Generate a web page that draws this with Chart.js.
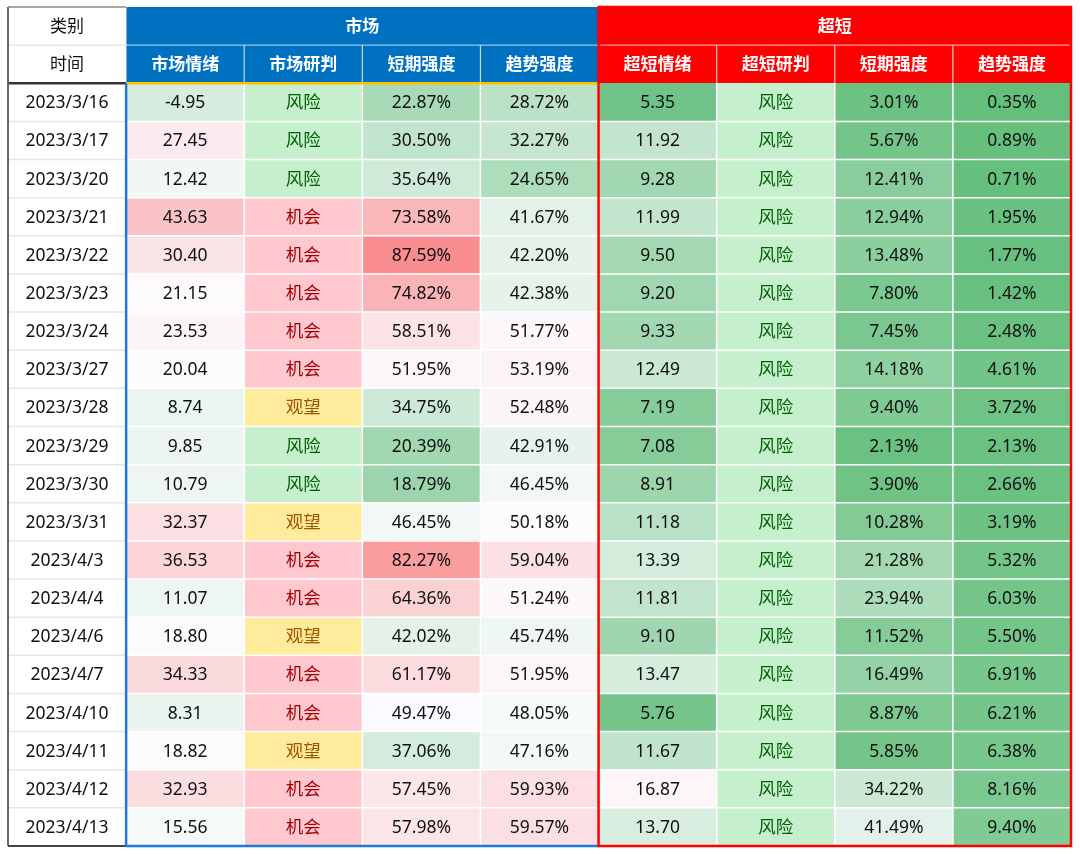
<!DOCTYPE html>
<html><head><meta charset="utf-8">
<script src="https://cdn.jsdelivr.net/npm/chart.js@4.4.0/dist/chart.umd.min.js"></script>
<style>html,body{margin:0;padding:0;background:#fff;}#wrap{width:1080px;height:854px;}</style>
</head><body><div id="wrap"><canvas id="c" width="1080" height="854"></canvas></div>
<script>
// ---- data ----
const dates = ['2023/3/16','2023/3/17','2023/3/20','2023/3/21','2023/3/22','2023/3/23','2023/3/24','2023/3/27','2023/3/28','2023/3/29','2023/3/30','2023/3/31','2023/4/3','2023/4/4','2023/4/6','2023/4/7','2023/4/10','2023/4/11','2023/4/12','2023/4/13'];
const mktEmotion = [-4.95,27.45,12.42,43.63,30.40,21.15,23.53,20.04,8.74,9.85,10.79,32.37,36.53,11.07,18.80,34.33,8.31,18.82,32.93,15.56];
const mktJudge = ['风险','风险','风险','机会','机会','机会','机会','机会','观望','风险','风险','观望','机会','机会','观望','机会','机会','观望','机会','机会'];
const mktShort = [22.87,30.50,35.64,73.58,87.59,74.82,58.51,51.95,34.75,20.39,18.79,46.45,82.27,64.36,42.02,61.17,49.47,37.06,57.45,57.98];
const mktTrend = [28.72,32.27,24.65,41.67,42.20,42.38,51.77,53.19,52.48,42.91,46.45,50.18,59.04,51.24,45.74,51.95,48.05,47.16,59.93,59.57];
const ultraEmotion = [5.35,11.92,9.28,11.99,9.50,9.20,9.33,12.49,7.19,7.08,8.91,11.18,13.39,11.81,9.10,13.47,5.76,11.67,16.87,13.70];
const ultraJudge = ['风险','风险','风险','风险','风险','风险','风险','风险','风险','风险','风险','风险','风险','风险','风险','风险','风险','风险','风险','风险'];
const ultraShort = [3.01,5.67,12.41,12.94,13.48,7.80,7.45,14.18,9.40,2.13,3.90,10.28,21.28,23.94,11.52,16.49,8.87,5.85,34.22,41.49];
const ultraTrend = [0.35,0.89,0.71,1.95,1.77,1.42,2.48,4.61,3.72,2.13,2.66,3.19,5.32,6.03,5.50,6.91,6.21,6.38,8.16,9.40];
const groupHeaders = ['类别','市场','超短'];
const colHeaders = ['时间','市场情绪','市场研判','短期强度','趋势强度','超短情绪','超短研判','短期强度','趋势强度'];

// ---- styling helpers ----
const GREEN=[99,190,123], WHITE=[252,252,255], RED=[248,105,107];
function mix(a,b,t){return 'rgb('+a.map((v,i)=>Math.round(v+(b[i]-v)*t)).join(',')+')';}
function scaleColor(v,lo,mid,hi){
  if(v<=mid){const t=Math.min(1,(mid-v)/(mid-lo));return mix(WHITE,GREEN,t);}
  const t=Math.min(1,(v-mid)/(hi-mid));return mix(WHITE,RED,t);
}
const judgeStyle={'风险':{bg:'#C6EFCE',fg:'#006100'},'机会':{bg:'#FFC7CE',fg:'#9C0006'},'观望':{bg:'#FFEB9C',fg:'#9C5700'}};
const columns=[
  {vals:dates,type:'date'},
  {vals:mktEmotion,type:'num',sc:[-80,20.5,80.5]},
  {vals:mktJudge,type:'judge'},
  {vals:mktShort,type:'pct',sc:[0,50,100]},
  {vals:mktTrend,type:'pct',sc:[0,50,100]},
  {vals:ultraEmotion,type:'num',sc:[4.3,16.5,26]},
  {vals:ultraJudge,type:'judge'},
  {vals:ultraShort,type:'pct',sc:[0,50,100]},
  {vals:ultraTrend,type:'pct',sc:[0,50,100]}
];
const rowLabels=['类别','时间'].concat(dates);
function cellColor(c,r){
  if(c===0) return '#ffffff';
  if(r<2) return c<=4?'#0070C0':'#FF0000';
  const col=columns[c], v=col.vals[r-2];
  if(col.type==='judge') return judgeStyle[v].bg;
  return scaleColor(v,col.sc[0],col.sc[1],col.sc[2]);
}
function cellText(c,r){
  const col=columns[c], v=col.vals[r-2];
  if(col.type==='pct') return v.toFixed(2)+'%';
  if(col.type==='num') return v.toFixed(2);
  return v;
}

const datasets=columns.map((col,c)=>({
  label:colHeaders[c],
  data:rowLabels.map(()=>[c,c+1]),
  backgroundColor:rowLabels.map((_,r)=>cellColor(c,r)),
  borderWidth:0,barPercentage:1,categoryPercentage:1,grouped:false
}));

const FONT='"Noto Sans","Noto Sans CJK SC",sans-serif';
const tablePlugin={
  id:'tablePlugin',
  afterDatasetsDraw(chart){
    const ctx=chart.ctx, xs=chart.scales.x, ys=chart.scales.y;
    const X=c=>xs.getPixelForValue(c);
    const h=ys.getPixelForValue(1)-ys.getPixelForValue(0);
    const T=r=>ys.getPixelForValue(r)-h/2;
    const top=T(0), bottom=T(rowLabels.length);
    function line(x1,y1,x2,y2,color,w){ctx.beginPath();ctx.strokeStyle=color;ctx.lineWidth=w;ctx.moveTo(x1,y1);ctx.lineTo(x2,y2);ctx.stroke();}
    ctx.save();
    // data separators
    for(let c=2;c<=8;c++) line(X(c),T(2),X(c),bottom,'#ffffff',1.5);
    for(let r=3;r<rowLabels.length;r++) line(X(1),T(r),X(9),T(r),'#ffffff',1.5);
    // header separators
    for(const c of [2,3,4,6,7,8]) line(X(c),T(1),X(c),T(2),'rgba(255,255,255,0.75)',1.2);
    line(X(1),T(1),X(9),T(1),'rgba(255,255,255,0.6)',1.2);
    // date column lines
    for(let r=1;r<rowLabels.length;r++) if(r!==2) line(X(0),T(r),X(1),T(r),'#e6e6e6',1.5);
    line(X(0),T(2),X(1),T(2),'#333333',2.5);
    line(X(1),T(2),X(5),T(2),'#FFC000',2.5);
    line(X(0),top,X(0),bottom,'#666666',2);
    line(X(0),top,X(1),top,'#8a8a8a',1.5);
    line(X(0),bottom,X(1),bottom,'#444444',2);
    // blue border
    line(X(1),T(2),X(1),bottom,'#1c7bd6',2.5);
    line(X(1),bottom,X(5),bottom,'#1c7bd6',2.5);
    // red border
    ctx.strokeStyle='#FF0000';ctx.lineWidth=2.5;
    ctx.strokeRect(X(5),top,X(9)-X(5),bottom-top);
    // texts
    ctx.textAlign='center';ctx.textBaseline='middle';
    const cy=r=>ys.getPixelForValue(r)+1;
    ctx.font='17px '+FONT;ctx.fillStyle='#111';
    ctx.fillText(groupHeaders[0],(X(0)+X(1))/2,cy(0));
    ctx.fillText(colHeaders[0],(X(0)+X(1))/2,cy(1));
    ctx.font='bold 17px '+FONT;ctx.fillStyle='#ffffff';
    ctx.fillText(groupHeaders[1],(X(1)+X(5))/2,cy(0));
    ctx.fillText(groupHeaders[2],(X(5)+X(9))/2,cy(0));
    for(let c=1;c<9;c++) ctx.fillText(colHeaders[c],(X(c)+X(c+1))/2,cy(1));
    ctx.font='17.5px '+FONT;
    for(let c=0;c<9;c++){
      for(let r=2;r<rowLabels.length;r++){
        const col=columns[c];
        ctx.fillStyle=col.type==='judge'?judgeStyle[col.vals[r-2]].fg:'#111111';
        ctx.fillText(cellText(c,r),(X(c)+X(c+1))/2,cy(r));
      }
    }
    ctx.restore();
  }
};

new Chart(document.getElementById('c'),{
  type:'bar',
  data:{labels:rowLabels,datasets},
  options:{
    indexAxis:'y',responsive:false,animation:false,
    layout:{padding:{left:8,right:9,top:7,bottom:8}},
    scales:{
      x:{type:'linear',min:0,max:9,display:false},
      y:{type:'category',display:false,offset:true}
    },
    plugins:{legend:{display:false},tooltip:{enabled:false}}
  },
  plugins:[tablePlugin]
});
</script></body></html>
